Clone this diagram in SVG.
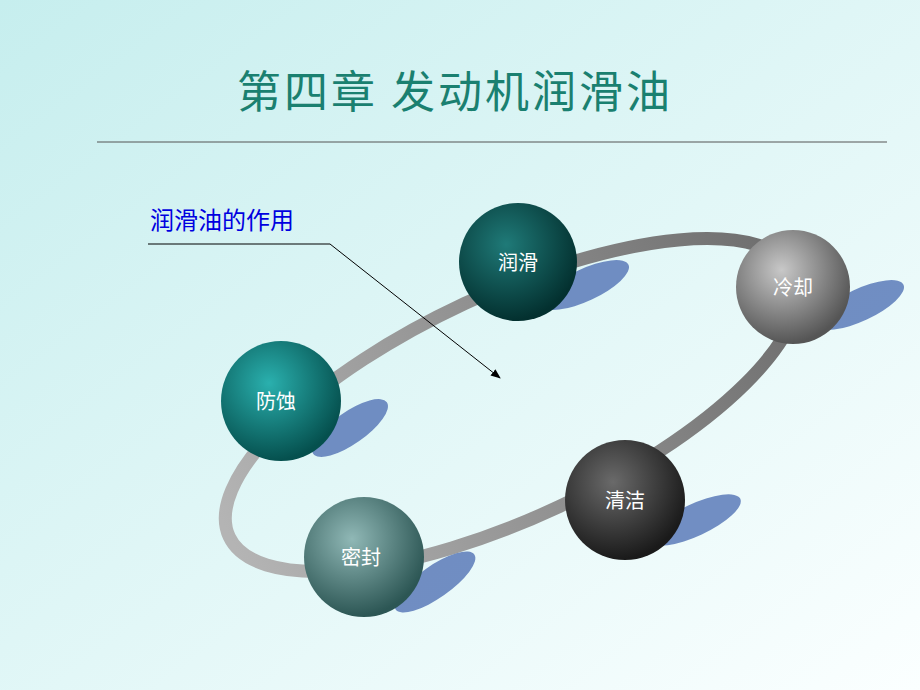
<svg xmlns="http://www.w3.org/2000/svg" width="920" height="690" viewBox="0 0 920 690">
<defs>
<linearGradient id="bg" x1="0" y1="0" x2="1" y2="1"><stop offset="0" stop-color="#c6eeee"/><stop offset="1" stop-color="#fbffff"/></linearGradient>
<linearGradient id="ring" x1="0" y1="0" x2="1" y2="0"><stop offset="0" stop-color="#b4b4b4"/><stop offset="1" stop-color="#6e6e6e"/></linearGradient>
<radialGradient id="g1" cx="0.4" cy="0.35" r="0.65"><stop offset="0" stop-color="#1f7a78"/><stop offset="1" stop-color="#03302f"/></radialGradient>
<radialGradient id="g2" cx="0.4" cy="0.35" r="0.65"><stop offset="0" stop-color="#c8c8c8"/><stop offset="1" stop-color="#555"/></radialGradient>
<radialGradient id="g3" cx="0.4" cy="0.35" r="0.65"><stop offset="0" stop-color="#2ab0ae"/><stop offset="1" stop-color="#05504e"/></radialGradient>
<radialGradient id="g4" cx="0.4" cy="0.35" r="0.65"><stop offset="0" stop-color="#6a6a6a"/><stop offset="1" stop-color="#1a1a1a"/></radialGradient>
<radialGradient id="g5" cx="0.4" cy="0.35" r="0.65"><stop offset="0" stop-color="#90b8b6"/><stop offset="1" stop-color="#2c5654"/></radialGradient>
<marker id="ah" markerWidth="10" markerHeight="8" refX="9" refY="4" orient="auto" markerUnits="userSpaceOnUse"><path d="M0,0 L10,4 L0,8 z" fill="#000"/></marker>
</defs>
<style>
.lbl{font-family:"Noto Sans CJK SC",sans-serif;font-size:20px;fill:#fff;text-anchor:middle}
.sh{fill:#5a7ab8;opacity:0.85}
</style>
<rect width="920" height="690" fill="url(#bg)"/>
<text x="455" y="108" font-family="'Noto Sans CJK SC',sans-serif" font-size="44" letter-spacing="3" fill="#1a8070" text-anchor="middle">第四章 发动机润滑油</text>
<line x1="97" y1="142" x2="887" y2="142" stroke="#555" stroke-width="1"/>
<g id="connectors">
<ellipse cx="512" cy="405" rx="312" ry="112" transform="rotate(-25 512 405)" fill="none" stroke="url(#ring)" stroke-width="13"/>
<polyline points="148,244 330,244 500,378" fill="none" stroke="#000" stroke-width="1" marker-end="url(#ah)"/>
</g>
<text x="150" y="229" font-family="'Noto Sans CJK SC',sans-serif" font-size="24" fill="#0000e0">润滑油的作用</text>
<g id="n1"><ellipse class="sh" cx="585" cy="285" rx="48" ry="16" transform="rotate(-25 585 285)"/><circle cx="518" cy="262" r="59" fill="url(#g1)"/><text class="lbl" x="518" y="270">润滑</text></g>
<g id="n2"><ellipse class="sh" cx="860" cy="305" rx="48" ry="16" transform="rotate(-25 860 305)"/><circle cx="793" cy="287" r="57" fill="url(#g2)"/><text class="lbl" x="793" y="295">冷却</text></g>
<g id="n3"><ellipse class="sh" cx="350" cy="428" rx="45" ry="16" transform="rotate(-35 350 428)"/><circle cx="281" cy="401" r="60" fill="url(#g3)"/><text class="lbl" x="276" y="409">防蚀</text></g>
<g id="n4"><ellipse class="sh" cx="695" cy="520" rx="50" ry="16" transform="rotate(-25 695 520)"/><circle cx="625" cy="500" r="60" fill="url(#g4)"/><text class="lbl" x="625" y="508">清洁</text></g>
<g id="n5"><ellipse class="sh" cx="435" cy="582" rx="48" ry="16" transform="rotate(-35 435 582)"/><circle cx="364" cy="557" r="60" fill="url(#g5)"/><text class="lbl" x="361" y="565">密封</text></g>
</svg>
